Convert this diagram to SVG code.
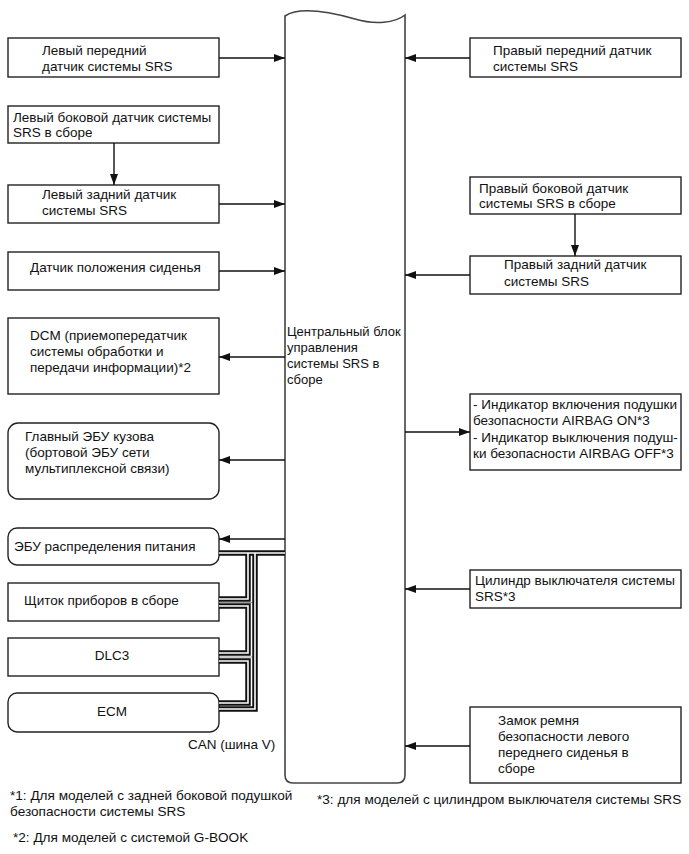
<svg xmlns="http://www.w3.org/2000/svg" width="689" height="854" viewBox="0 0 689 854">
<style>
text{font-family:"Liberation Sans",Arial,sans-serif;font-size:13.5px;fill:#111}
#central text{font-size:13px}
#notes text{font-size:13.6px}
.box{fill:#fff;stroke:#222;stroke-width:1.4}
.blk{fill:#fff;stroke:#444;stroke-width:1.6}
.ln{fill:none;stroke:#111;stroke-width:1.4}
.cb{fill:none;stroke:#111;stroke-width:5.5}
.cw{fill:none;stroke:#fff;stroke-width:1.6}
.mid{text-anchor:middle}
</style>
<defs>
<marker id="ah" markerUnits="userSpaceOnUse" markerWidth="11" markerHeight="8" refX="11" refY="4" orient="auto">
<path d="M0,0 L11,4 L0,8 Z" fill="#111"/>
</marker>
</defs>
<rect width="689" height="854" fill="#fff"/>

<g id="central">
<path class="blk" d="M285,16 C300,6 330,12 355,19 C375,25 395,23 405,15 L405,775 Q405,783 397,783 L293,783 Q285,783 285,775 Z"/>
<text x="287" y="336">Центральный блок</text>
<text x="287" y="352">управления</text>
<text x="287" y="368">системы SRS в</text>
<text x="287" y="384">сборе</text>
</g>

<g id="l1"><rect class="box" x="8" y="38" width="211" height="39"/>
<text x="42" y="55">Левый передний</text><text x="42" y="71">датчик системы SRS</text></g>
<g id="l2"><rect class="box" x="8" y="106" width="211" height="37"/>
<text x="13" y="122">Левый боковой датчик системы</text><text x="13" y="137">SRS в сборе</text></g>
<g id="l3"><rect class="box" x="8" y="185" width="211" height="38"/>
<text x="42" y="199">Левый задний датчик</text><text x="42" y="215">системы SRS</text></g>
<g id="l4"><rect class="box" x="8" y="252" width="211" height="38"/>
<text x="30" y="272">Датчик положения сиденья</text></g>
<g id="l5"><rect class="box" x="8" y="318" width="211" height="76"/>
<text x="30" y="340">DCM (приемопередатчик</text><text x="30" y="356">системы обработки и</text><text x="30" y="372">передачи информации)*2</text></g>
<g id="l6"><rect class="box" x="8" y="423" width="211" height="76" rx="10"/>
<text x="25" y="441">Главный ЭБУ кузова</text><text x="25" y="457">(бортовой ЭБУ сети</text><text x="25" y="473">мультиплексной связи)</text></g>
<g id="l7"><rect class="box" x="8" y="528" width="211" height="37" rx="9"/>
<text x="14" y="551">ЭБУ распределения питания</text></g>
<g id="l8"><rect class="box" x="8" y="583" width="211" height="38"/>
<text x="24" y="605">Щиток приборов в сборе</text></g>
<g id="l9"><rect class="box" x="8" y="638" width="211" height="38"/>
<text class="mid" x="112" y="660">DLC3</text></g>
<g id="l10"><rect class="box" x="8" y="693" width="211" height="39" rx="9"/>
<text class="mid" x="112" y="716">ECM</text></g>

<g id="r1"><rect class="box" x="470" y="38" width="211" height="39"/>
<text x="493" y="55">Правый передний датчик</text><text x="493" y="71">системы SRS</text></g>
<g id="r2"><rect class="box" x="470" y="177" width="211" height="37"/>
<text x="479" y="193">Правый боковой датчик</text><text x="479" y="208">системы SRS в сборе</text></g>
<g id="r3"><rect class="box" x="470" y="256" width="211" height="38"/>
<text x="504" y="269">Правый задний датчик</text><text x="504" y="286">системы SRS</text></g>
<g id="r4"><rect class="box" x="470" y="394" width="211" height="76"/>
<text x="473" y="409">- Индикатор включения подушки</text><text x="473" y="425">безопасности AIRBAG ON*3</text><text x="473" y="442">- Индикатор выключения подуш-</text><text x="473" y="458">ки безопасности AIRBAG OFF*3</text></g>
<g id="r5"><rect class="box" x="470" y="570" width="211" height="38"/>
<text x="475" y="585">Цилиндр выключателя системы</text><text x="475" y="601">SRS*3</text></g>
<g id="r6"><rect class="box" x="470" y="707" width="211" height="76"/>
<text x="498" y="725">Замок ремня</text><text x="498" y="741">безопасности левого</text><text x="498" y="757">переднего сиденья в</text><text x="498" y="773">сборе</text></g>

<g id="connectors">
<path class="ln" marker-end="url(#ah)" d="M219,58 H285"/>
<path class="ln" marker-end="url(#ah)" d="M114,143 V185"/>
<path class="ln" marker-end="url(#ah)" d="M219,204 H285"/>
<path class="ln" marker-end="url(#ah)" d="M219,271 H285"/>
<path class="ln" marker-end="url(#ah)" d="M285,357 H219"/>
<path class="ln" marker-end="url(#ah)" d="M285,460 H219"/>
<path class="ln" marker-end="url(#ah)" d="M285,539 H219"/>
<path class="ln" marker-end="url(#ah)" d="M470,58 H405"/>
<path class="ln" marker-end="url(#ah)" d="M575,214 V256"/>
<path class="ln" marker-end="url(#ah)" d="M470,275 H405"/>
<path class="ln" marker-end="url(#ah)" d="M405,432 H470"/>
<path class="ln" marker-end="url(#ah)" d="M470,589 H405"/>
<path class="ln" marker-end="url(#ah)" d="M470,746 H405"/>
<g id="can">
<path d="M219,602.5 H253 M219,657 H253" stroke="#999" stroke-width="1" fill="none"/>
<path class="cb" d="M285,553 H219"/>
<path class="cb" d="M248,553 V599 H219"/>
<path class="cb" d="M219,606 H248 V653 H219"/>
<path class="cb" d="M219,661 H248 V703 H219"/>
<path class="cb" d="M255,553 V709 H219"/>
<path class="cw" d="M285,553 H219"/>
<path class="cw" d="M248,553 V599 H219"/>
<path class="cw" d="M219,606 H248 V653 H219"/>
<path class="cw" d="M219,661 H248 V703 H219"/>
<path class="cw" d="M255,553 V709 H219"/>
</g>
</g>
<text x="188" y="749">CAN (шина V)</text>

<g id="notes">
<text x="10" y="800">*1: Для моделей с задней боковой подушкой</text>
<text x="10" y="816">безопасности системы SRS</text>
<text x="13" y="842">*2: Для моделей с системой G-BOOK</text>
<text x="317" y="804">*3: для моделей с цилиндром выключателя системы SRS</text>
</g>
</svg>
